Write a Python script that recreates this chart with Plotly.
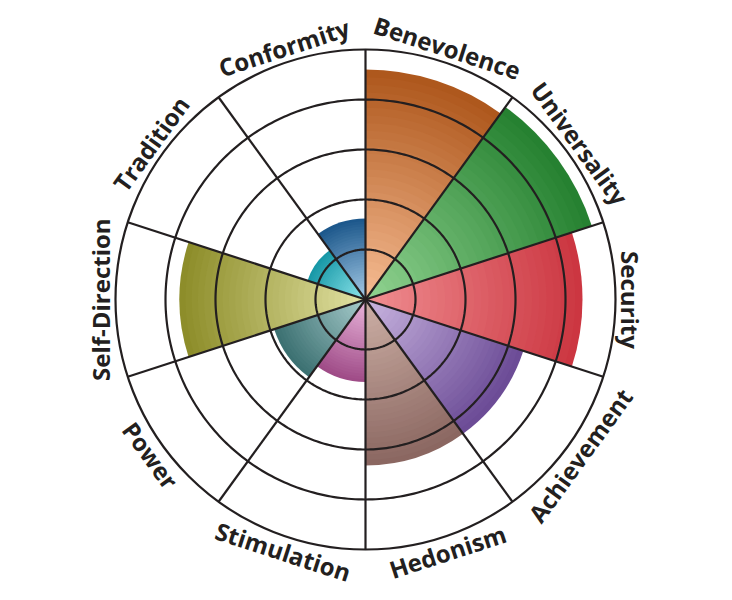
import math
import plotly.graph_objects as go

# ---- data ----
categories = ["Benevolence", "Universality", "Security", "Achievement", "Hedonism",
              "Stimulation", "Power", "Self-Direction", "Tradition", "Conformity"]
values = [4.6, 4.76, 4.34, 3.32, 3.32, 1.65, 1.92, 3.72, 1.22, 1.62]
radial_ticks = [1, 2, 3, 4]
radial_max = 5

# ---- style ----
outer_colors = ["#ad561b", "#24802f", "#cb3540", "#6a4a95", "#8a6660",
                "#9e4a86", "#3a6f70", "#8c8c28", "#1697a6", "#1b568a"]
inner_colors = ["#f7bd94", "#92d492", "#f08f92", "#c9b5e0", "#cdb0a6",
                "#eab6dc", "#a9cdcd", "#e2e2a4", "#8fe6ec", "#a6cce8"]
INK = "#231f20"
N_LAYERS = 30

def hex2rgb(h):
    h = h.lstrip("#")
    return tuple(int(h[i:i + 2], 16) for i in (0, 2, 4))

def mix(c1, c2, t):
    a, b = hex2rgb(c1), hex2rgb(c2)
    return "rgb(%d,%d,%d)" % tuple(round(a[i] + (b[i] - a[i]) * t) for i in range(3))

n = len(categories)
step = 360 / n
theta = [step / 2 + step * i for i in range(n)]

fig = go.Figure()
for k in range(N_LAYERS):
    frac = (N_LAYERS - k) / N_LAYERS
    t = (N_LAYERS - k - 0.5) / N_LAYERS
    fig.add_trace(go.Barpolar(
        r=[v * frac for v in values],
        theta=theta,
        width=[step] * n,
        marker=dict(color=[mix(inner_colors[i], outer_colors[i], t) for i in range(n)],
                    line=dict(width=0)),
        text=categories,
        hoverinfo="text",
        showlegend=False,
    ))

# grid drawn above the bars: rings at the radial ticks and spokes at sector edges
ring_r, ring_t = [], []
for rv in radial_ticks:
    ring_r += [rv] * 361 + [None]
    ring_t += list(range(361)) + [None]
fig.add_trace(go.Scatterpolar(r=ring_r, theta=ring_t, mode="lines",
                              line=dict(color=INK, width=2.2), hoverinfo="skip",
                              showlegend=False))
spoke_r, spoke_t = [], []
for i in range(n):
    spoke_r += [0, radial_max, None]
    spoke_t += [step * i, step * i, None]
fig.add_trace(go.Scatterpolar(r=spoke_r, theta=spoke_t, mode="lines",
                              line=dict(color=INK, width=2.2), hoverinfo="skip",
                              showlegend=False))

W, H = 732, 600
OFF = 8  # page body margin
cx, cy, R = 365.5 - OFF, 299.5 - OFF, 250
fig.update_layout(
    width=W, height=H,
    margin=dict(l=0, r=0, t=0, b=0),
    paper_bgcolor="white",
    plot_bgcolor="white",
    polar=dict(
        domain=dict(x=[(cx - R) / W, (cx + R) / W], y=[1 - (cy + R) / H, 1 - (cy - R) / H]),
        bgcolor="white",
        barmode="overlay",
        bargap=0,
        radialaxis=dict(range=[0, radial_max], tickvals=radial_ticks, showticklabels=False,
                        ticks="", showline=False, showgrid=False),
        angularaxis=dict(direction="clockwise", rotation=90, thetaunit="degrees",
                         tickmode="array", tickvals=[step * i for i in range(n)],
                         showticklabels=False, ticks="", showline=True,
                         linecolor=INK, linewidth=2.2, showgrid=False),
    ),
)

LR = 265
for i, name in enumerate(categories):
    a = theta[i]
    ar = math.radians(a)
    x = cx + LR * math.sin(ar)
    y = cy - LR * math.cos(ar)
    if 90 < a < 270:
        rot = a - 180
    else:
        rot = a if a <= 90 else a - 360
    fig.add_annotation(
        x=x / W, y=1 - y / H, xref="paper", yref="paper",
        text=name, showarrow=False, textangle=rot,
        xanchor="center", yanchor="middle",
        font=dict(family="Open Sans", size=24, color=INK, weight=700),
    )

fig.write_html("out.html")
